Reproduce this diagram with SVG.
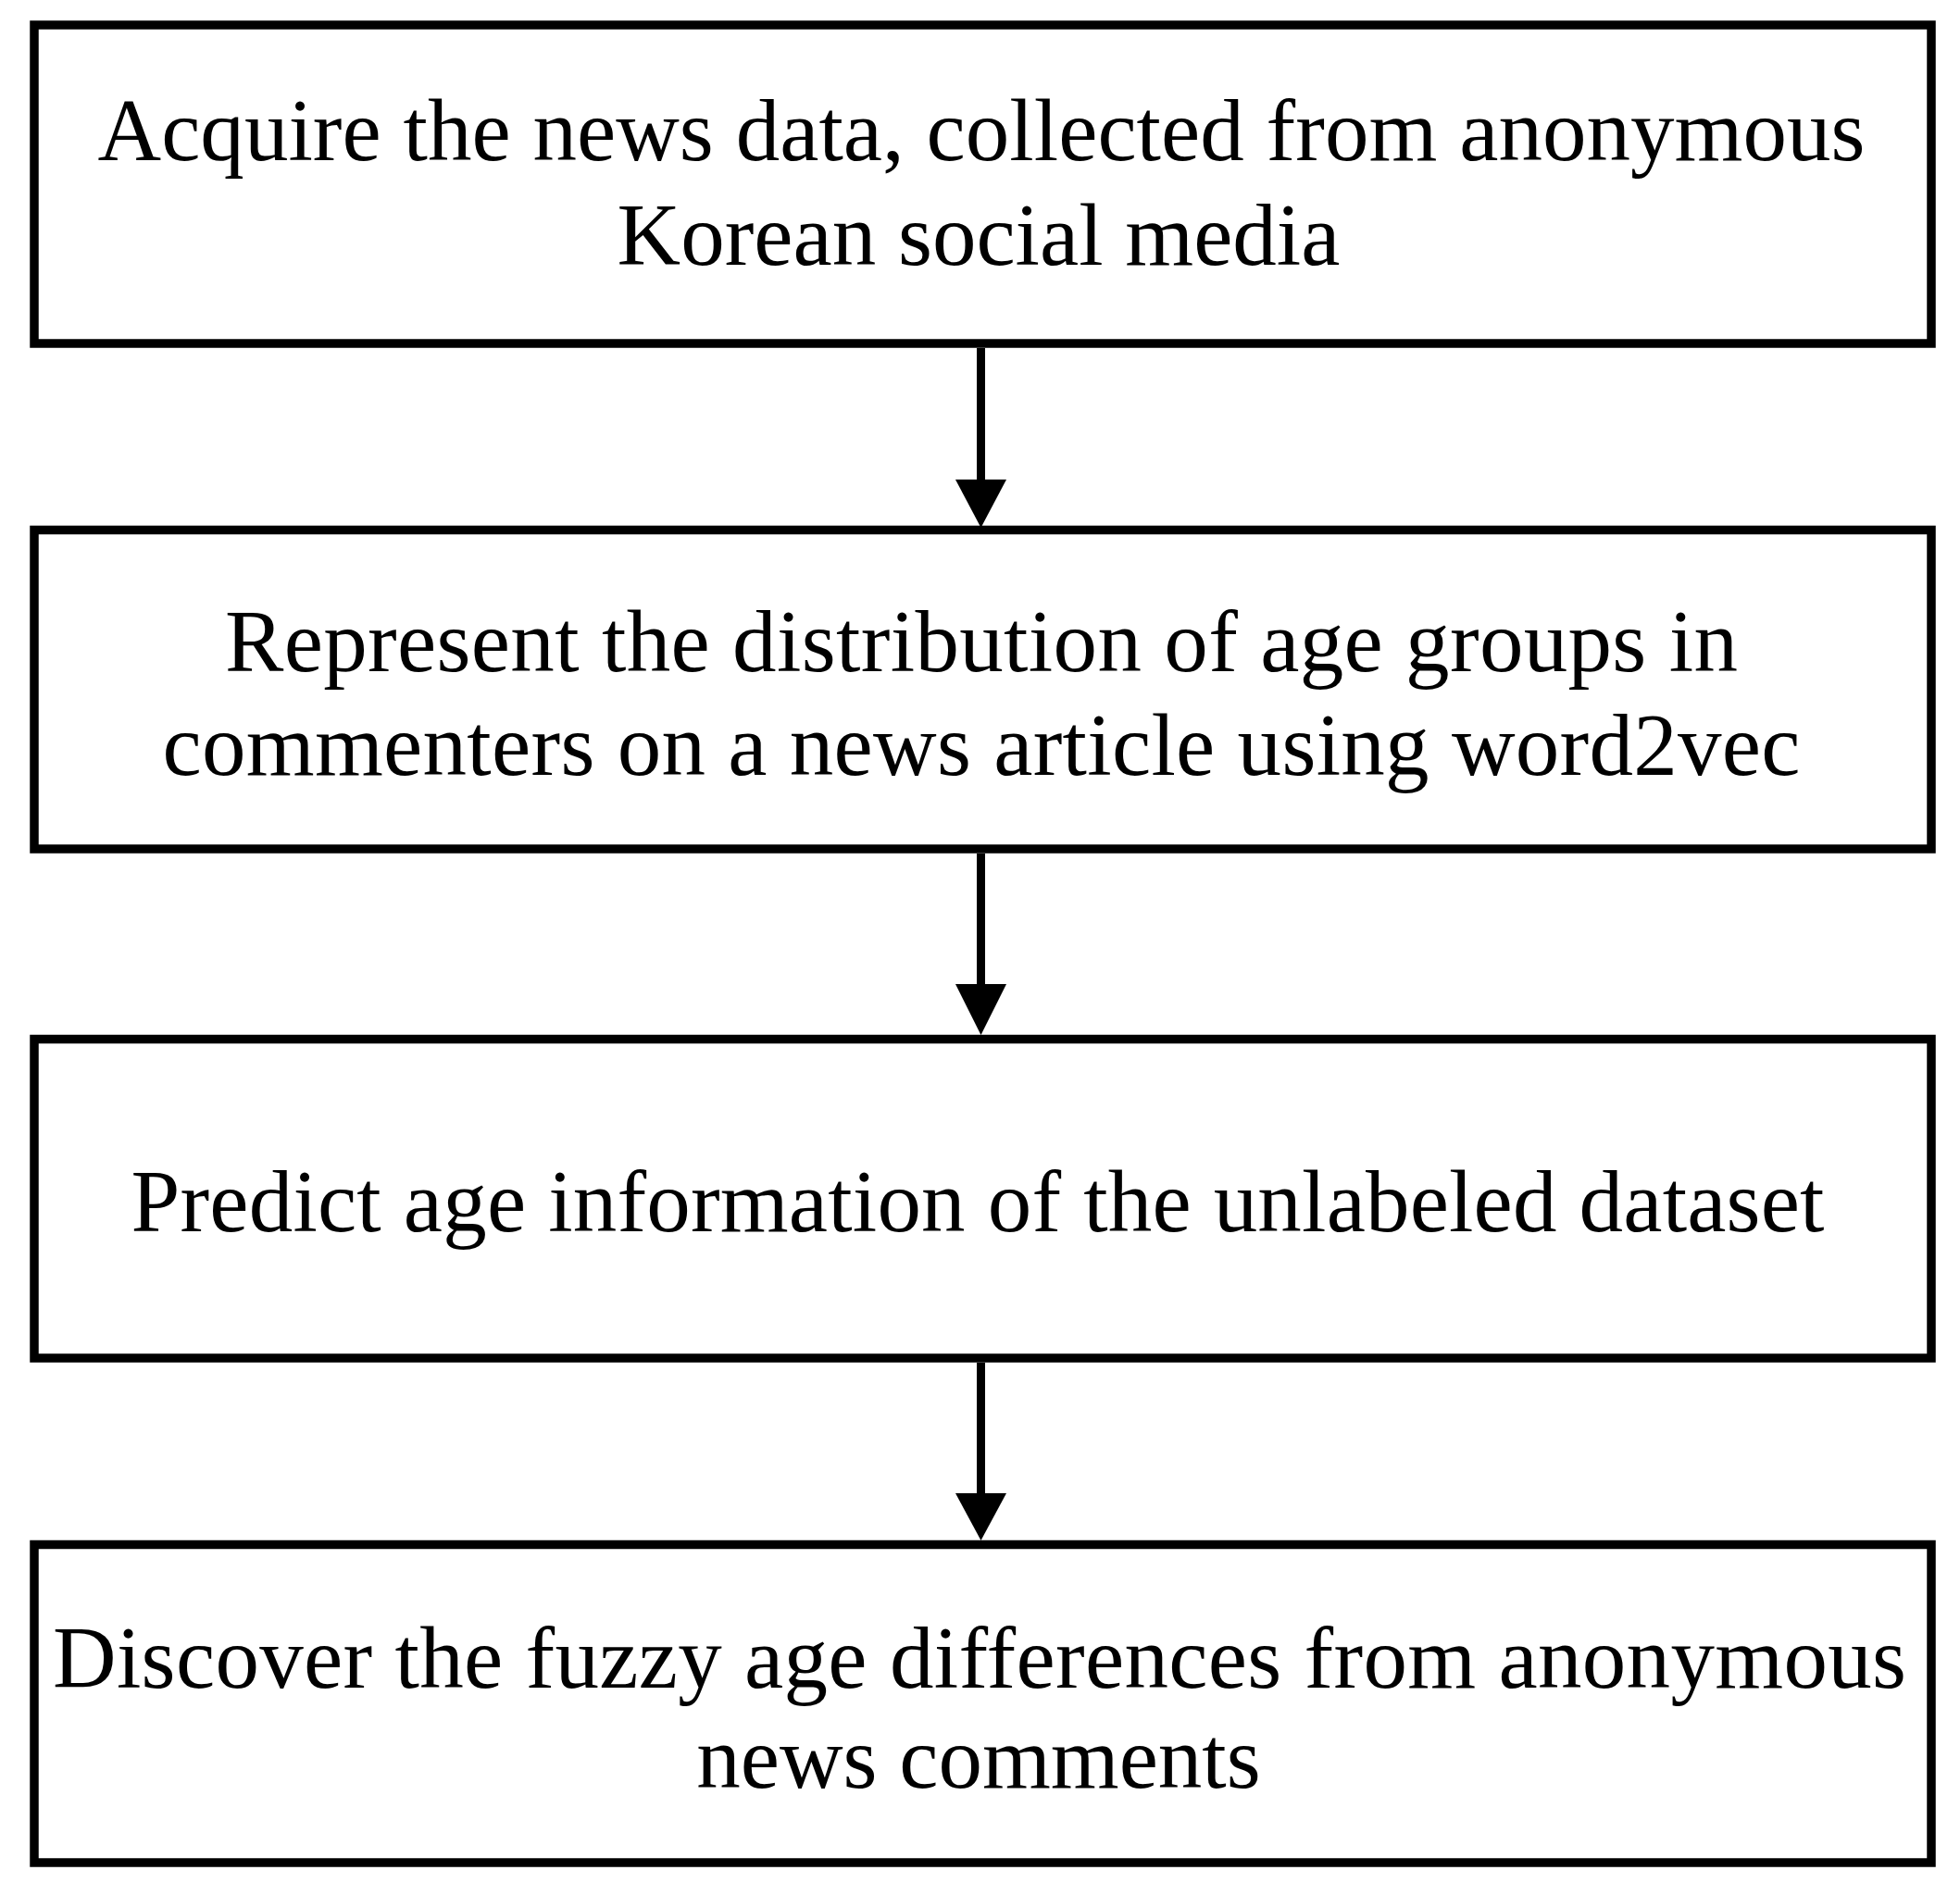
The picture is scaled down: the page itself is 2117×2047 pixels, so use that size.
<svg xmlns="http://www.w3.org/2000/svg" width="2117" height="2047" viewBox="0 0 2117 2047">
<style>
.box{fill:#ffffff;stroke:#000000;stroke-width:9.5}
.lbl{font-family:"Liberation Serif","Times New Roman",serif;font-size:95px;fill:#000000;text-anchor:middle}
.edge{stroke:#000000;stroke-width:9;fill:none}
.head{fill:#000000}
</style>
<rect width="2117" height="2047" fill="#ffffff"/>
<g id="node1">
<rect class="box" x="37" y="27" width="2049" height="344"/>
<text class="lbl" x="1060" y="173" textLength="1909" lengthAdjust="spacing">Acquire the news data, collected from anonymous</text>
<text class="lbl" x="1057" y="286">Korean social media</text>
</g>
<g id="node2">
<rect class="box" x="37" y="572.5" width="2049" height="344.5"/>
<text class="lbl" x="1060" y="725" textLength="1634" lengthAdjust="spacing">Represent the distribution of age groups in</text>
<text class="lbl" x="1060" y="837" textLength="1769" lengthAdjust="spacing">commenters on a news article using word2vec</text>
</g>
<g id="node3">
<rect class="box" x="37" y="1122.5" width="2049" height="344.5"/>
<text class="lbl" x="1056" y="1330" textLength="1829" lengthAdjust="spacing">Predict age information of the unlabeled dataset</text>
</g>
<g id="node4">
<rect class="box" x="37" y="1668.5" width="2049" height="343.5"/>
<text class="lbl" x="1058" y="1823" textLength="2002" lengthAdjust="spacing">Discover the fuzzy age differences from anonymous</text>
<text class="lbl" x="1057" y="1931">news comments</text>
</g>
<g id="connectors">
<line class="edge" x1="1059.5" y1="376" x2="1059.5" y2="522"/>
<polygon class="head" points="1032,518 1087,518 1059.5,570"/>
<line class="edge" x1="1059.5" y1="922" x2="1059.5" y2="1067"/>
<polygon class="head" points="1032,1063 1087,1063 1059.5,1118"/>
<line class="edge" x1="1059.5" y1="1472" x2="1059.5" y2="1617"/>
<polygon class="head" points="1032,1613 1087,1613 1059.5,1664"/>
</g>
</svg>
